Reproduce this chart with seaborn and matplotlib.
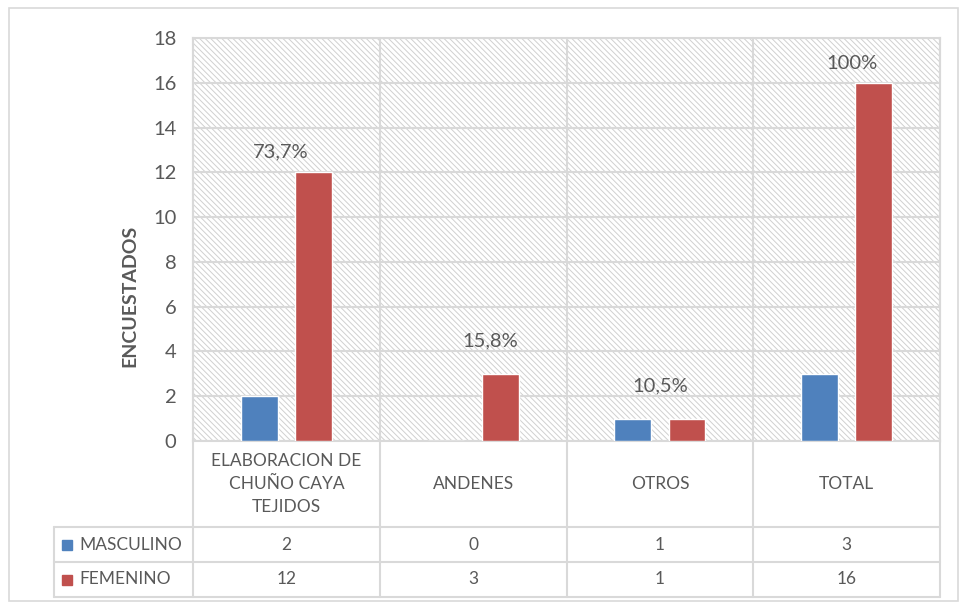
import pandas as pd
import seaborn as sns
import matplotlib.pyplot as plt
import matplotlib.transforms as mtransforms
from matplotlib.patches import Rectangle

# datos
categorias = ["ELABORACION DE\nCHUÑO CAYA\nTEJIDOS", "ANDENES", "OTROS", "TOTAL"]
series = ["MASCULINO", "FEMENINO"]
masculino = [2, 0, 1, 3]
femenino = [12, 3, 1, 16]
porcentajes = ["73,7%", "15,8%", "10,5%", "100%"]
colores = ["#4F81BD", "#C0504D"]

df = pd.DataFrame({
    "categoria": categorias * 2,
    "sexo": [series[0]] * len(categorias) + [series[1]] * len(categorias),
    "encuestados": masculino + femenino,
})

sns.set_theme(style="white")
plt.rcParams['font.family'] = ['Lato', 'DejaVu Sans']
plt.rcParams['hatch.linewidth'] = 0.7

gris = "#d9d9d9"
texto = "#595959"
W, H = 959, 602

fig = plt.figure(figsize=(W / 100, H / 100), dpi=100)
ax = fig.add_axes([193 / W, 1 - 441 / H, 747 / W, 403 / H])

# fondo rayado
ax.add_patch(Rectangle((0, 0), 1, 1, transform=ax.transAxes, facecolor="white",
                       hatch="\\" * 6, edgecolor="#d0d0d0", lw=0, zorder=0))

sns.barplot(data=df, x="categoria", y="encuestados", hue="sexo", hue_order=series,
            palette=colores, width=0.58, gap=0.32, ax=ax, legend=False,
            saturation=1, zorder=3)

ax.set_ylim(0, 18)
ax.set_xlim(-0.5, len(categorias) - 0.5)
ax.set_yticks(range(0, 19, 2))
ax.tick_params(axis="y", labelsize=14.5, labelcolor=texto, length=0, pad=12)
ax.set_xticks([])
ax.set_xlabel("")
ax.set_ylabel("")
ax.set_axisbelow(True)
ax.yaxis.grid(True, color=gris, lw=1.5)
for s in ax.spines.values():
    s.set_color(gris)
    s.set_linewidth(1.5)

fig.text(130 / W, 1 - 296 / H, "ENCUESTADOS", rotation=90, ha="center", va="center",
         fontsize=14, fontweight="bold", color=texto)

# etiquetas de porcentaje
dx = [-0.03, 0.09, 0.0, 0.03]
dy = [0.9, 1.47, 1.46, 0.88]
for i, p in enumerate(porcentajes):
    ax.text(i + dx[i], femenino[i] + dy[i], p, ha="center", va="center",
            fontsize=14.5, color=texto, zorder=4)

# tabla de datos
tr = mtransforms.blended_transform_factory(ax.transData, ax.transAxes)
y_fila1 = (441 - 527) / 403
y_fila2 = (441 - 562) / 403
y_fin = (441 - 597) / 403
x_izq = (54 - 193) / 186.75 - 0.5
x_fin = len(categorias) - 0.5

for x in [i - 0.5 for i in range(len(categorias) + 1)]:
    ax.axvline(x, ymin=y_fin, ymax=1, color=gris, lw=1.5, clip_on=False, zorder=1)
ax.plot([x_izq, x_izq], [y_fila1, y_fin], transform=tr, color=gris, lw=1.5, clip_on=False)
for y in [y_fila1, y_fila2, y_fin]:
    ax.plot([x_izq, x_fin], [y, y], transform=tr, color=gris, lw=1.5, clip_on=False)

for i, c in enumerate(categorias):
    ax.text(i, -43 / 403, c, transform=tr, ha="center", va="center", fontsize=12.5,
            color=texto, linespacing=1.5)

filas = [masculino, femenino]
y_centros = [(y_fila1 + y_fila2) / 2, (y_fila2 + y_fin) / 2]
for serie, vals, yc, col in zip(series, filas, y_centros, colores):
    ax.plot([x_izq + 0.07], [yc], transform=tr, marker="s", ms=7.5, color=col,
            ls="none", clip_on=False)
    ax.text(x_izq + 0.135, yc, serie, transform=tr, ha="left", va="center",
            fontsize=12.5, color=texto)
    for i, v in enumerate(vals):
        ax.text(i, yc, str(v), transform=tr, ha="center", va="center",
                fontsize=12.5, color=texto)

# borde exterior
fig.add_artist(Rectangle((9 / W, 1 - 601 / H), (958 - 9) / W, (601 - 8) / H,
                         transform=fig.transFigure, fill=False, edgecolor=gris, lw=1.2))

fig.savefig("out.png", dpi=100)
